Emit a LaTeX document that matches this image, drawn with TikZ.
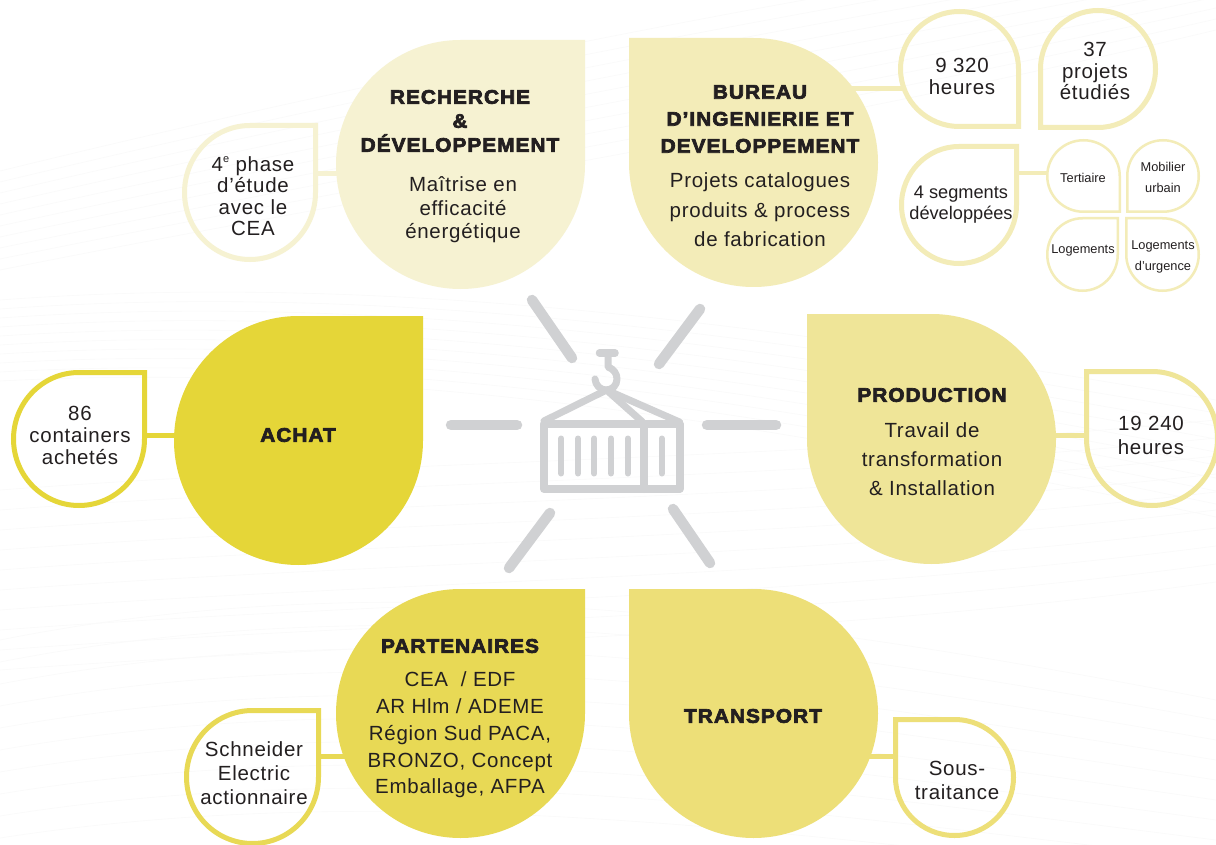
\documentclass[tikz,border=0pt]{standalone}
\usepackage{fontspec}
\usetikzlibrary{backgrounds}
\setmainfont{Liberation Sans}
\newfontfamily\bodyf[LetterSpace=3.5]{Liberation Sans}
\newfontfamily\plainf{Liberation Sans}
\newfontfamily\titlef[UprightFont={* Bold},LetterSpace=5,FakeStretch=1.06,FakeBold=3.5]{Liberation Sans}
\definecolor{txt}{HTML}{231F20}
\definecolor{grey}{HTML}{D0D1D3}
\definecolor{rdc}{HTML}{F6F2D2}
\definecolor{buc}{HTML}{F3ECB8}
\definecolor{acc}{HTML}{E5D638}
\definecolor{prc}{HTML}{EFE598}
\definecolor{pac}{HTML}{E8D955}
\definecolor{trc}{HTML}{EDDF78}
\definecolor{wavec}{HTML}{FAFAFA}
\tikzset{
  title/.style={align=center,inner sep=0pt,text=txt,font=\titlef\fontsize{19.7}{24}\selectfont},
  body/.style={align=center,inner sep=0pt,text=txt,font=\bodyf\fontsize{20.5}{#1}\selectfont},
  small/.style={align=center,inner sep=0pt,text=txt,font=\bodyf\fontsize{20.5}{#1}\selectfont},
  tiny/.style={align=center,inner sep=0pt,text=txt,font=\plainf\fontsize{12.8}{21}\selectfont},
  ico/.style={draw=grey,line width=8pt,line join=round,line cap=round},
  slat/.style={draw=grey,line width=6pt,line cap=round},
  ray/.style={draw=grey,line width=10.5pt,line cap=round},
  wave/.style={draw=wavec,line width=.6pt},
  link/.style={line width=#1},
  boxn/.style={inner sep=0pt,outer sep=0pt}
}
% \drop{options}{name}{x0}{y0}{x1}{y1}{sx}{sy}{inset}: drop with its sharp corner top right,
% flipped by sx, sy; x0..y1 are outer limits, inset half the stroke
\newcommand\drop[9]{%
  \pgfmathsetmacro\dcx{(#3+#5)/2}\pgfmathsetmacro\dcy{(#4+#6)/2}%
  \pgfmathsetmacro\dw{#5-#3}\pgfmathsetmacro\dh{#6-#4}%
  \pgfmathsetmacro\drx{#7*(\dw/2-#9)}\pgfmathsetmacro\dry{#8*(\dh/2-#9)}%
  \path[#1,shift={(\dcx,\dcy)},xscale=\drx,yscale=\dry]
    (0,-1) -- (1,-1) -- (1,0) .. controls (1,.5523) and (.5523,1) .. (0,1)
    .. controls (-.5523,1) and (-1,.5523) .. (-1,0)
    .. controls (-1,-.5523) and (-.5523,-1) .. (0,-1) -- cycle;
  \node[boxn,minimum width=\dw pt,minimum height=\dh pt] (#2) at (\dcx,\dcy) {};%
}
\begin{document}
\begin{tikzpicture}[x=1pt,y=-1pt]
\useasboundingbox (0,0) rectangle (1216,845);

% big drops
\drop{fill=rdc}{rd}{336}{40}{585}{289}{1}{1}{0}
\drop{fill=buc}{bu}{629}{38}{878}{287}{-1}{1}{0}
\drop{fill=acc}{ac}{174}{316}{423}{565}{1}{1}{0}
\drop{fill=prc}{pr}{807}{314}{1056}{564}{-1}{1}{0}
\drop{fill=pac}{pa}{336}{589}{585}{838}{1}{1}{0}
\drop{fill=trc}{tr}{629}{589}{878}{838}{-1}{1}{0}

% rings
\drop{draw=rdc,line width=5pt}{rdS}{182}{123}{318}{262}{1}{1}{2.5}
\drop{draw=buc,line width=5pt}{nine}{898}{9}{1021}{129}{1}{-1}{2.5}
\drop{draw=buc,line width=5pt}{tsv}{1038}{8}{1158}{130}{-1}{-1}{2.5}
\drop{draw=buc,line width=5pt}{seg}{899}{144}{1019}{266}{1}{1}{2.5}
\drop{draw=buc,line width=2.5pt}{ter}{1046}{139}{1121}{213}{1}{-1}{1.25}
\drop{draw=buc,line width=2.5pt}{mob}{1126}{139}{1200}{213}{-1}{-1}{1.25}
\drop{draw=buc,line width=2.5pt}{log}{1046}{217}{1119}{292}{1}{1}{1.25}
\drop{draw=buc,line width=2.5pt}{urg}{1125}{217}{1200}{292}{-1}{1}{1.25}
\drop{draw=acc,line width=5pt}{acS}{11}{370}{147}{508}{1}{1}{2.5}
\drop{draw=prc,line width=5pt}{prS}{1084}{369}{1220}{508}{-1}{1}{2.5}
\drop{draw=pac,line width=5pt}{paS}{184}{708}{321}{846}{1}{1}{2.5}
\drop{draw=trc,line width=5pt}{trS}{893}{717}{1016}{838}{-1}{1}{2.5}

% heights of the connectors
\coordinate (yrd) at (0,174);
\coordinate (ybu) at (0,88.5);
\coordinate (yse) at (0,173);
\coordinate (yac) at (0,435);
\coordinate (ypr) at (0,435);
\coordinate (ypa) at (0,756);
\coordinate (ytr) at (0,756);

\begin{pgfonlayer}{background}
  \fill[white] (0,0) rectangle (1216,845);
  % faint background lines
  \foreach \i in {0,...,9}{
    \draw[wave] (0,{270+\i*-11}) .. controls (400,{190-\i*13}) and (800,{130-\i*15}) .. (1216,{30-\i*11});
    \draw[wave] (0,{300+\i*9}) .. controls (400,{270+\i*10}) and (800,{330+\i*11}) .. (1216,{400+\i*13});
    \draw[wave] (0,{490+\i*20}) .. controls (400,{460+\i*20}) and (800,{460+\i*20}) .. (1216,{420+\i*18});
    \draw[wave] (0,{640+\i*22}) .. controls (400,{560+\i*24}) and (800,{620+\i*24}) .. (1216,{700+\i*20});
  }
  \draw[link=5pt,draw=rdc] ([xshift=-2pt]rdS.east |- yrd) -- (rd.center |- yrd);
  \draw[link=5pt,draw=buc] (bu.center |- ybu) -- ([xshift=4pt]nine.west |- ybu);
  \draw[link=3.5pt,draw=buc] ([xshift=-2pt]seg.east |- yse) -- ([xshift=2pt]ter.west |- yse);
  \draw[link=5pt,draw=acc] ([xshift=-2pt]acS.east |- yac) -- (ac.center |- yac);
  \draw[link=5pt,draw=prc] (pr.center |- ypr) -- ([xshift=2pt]prS.west |- ypr);
  \draw[link=5pt,draw=pac] ([xshift=-2pt]paS.east |- ypa) -- (pa.center |- ypa);
  \draw[link=5pt,draw=trc] (tr.center |- ytr) -- ([xshift=2pt]trS.west |- ytr);
\end{pgfonlayer}

% texts
\node[title] (t1) at (460,121) {RECHERCHE\\\&\\DÉVELOPPEMENT};
\node[body=23.5] (b1) at (463,210) {Maîtrise en\\efficacité\\énergétique};
\node[title,font=\titlef\fontsize{19.7}{27}\selectfont] (t2) at (760,119) {BUREAU\\D’INGENIERIE ET\\DEVELOPPEMENT};
\node[body=29.5] (b2) at (760,210) {Projets catalogues\\produits \& process\\de fabrication};
\node[title] (t3) at (298,435) {ACHAT};
\node[title] (t4) at (932,395) {PRODUCTION};
\node[body=29] (b4) at (932,459) {Travail de\\transformation\\\& Installation};
\node[title] (t5) at (460,646) {PARTENAIRES};
\node[body=26.7] (b5) at (460,735) {CEA~~/ EDF\\AR Hlm / ADEME\\Région Sud PACA,\\BRONZO, Concept\\Emballage, AFPA};
\node[title] (t6) at (753,716) {TRANSPORT};

\node[small=21.4] (s1) at (253,196) {4\raisebox{.42em}{\fontsize{11}{11}\selectfont e} phase\\d’étude\\avec le\\CEA};
\node[small=22] (s2) at (962,76) {9 320\\heures};
\node[small=21.5] (s3) at (1095,71) {37\\projets\\étudiés};
\node[align=center,inner sep=0pt,text=txt,font=\plainf\fontsize{18.2}{21}\selectfont] (s4) at (961,205) {4 segments\\développées};
\node[tiny] (s5) at (1083,178) {Tertiaire};
\node[tiny] (s6) at (1163,177) {Mobilier\\urbain};
\node[tiny] (s7) at (1083,250) {Logements};
\node[tiny] (s8) at (1163,257) {Logements\\d’urgence};
\node[small=22] (s9) at (80,435) {86\\containers\\achetés};
\node[small=24] (s10) at (1151,435) {19 240\\heures};
\node[small=24] (s11) at (254,773) {Schneider\\Electric\\actionnaire};
\node[small=24] (s12) at (957,780) {Sous-\\traitance};

% rays
\draw[ray] (532,300) -- (572,358);
\draw[ray] (700,309) -- (659,364);
\draw[ray] (451,425) -- (517,425);
\draw[ray] (707,425) -- (776,425);
\draw[ray] (550,513) -- (509,568);
\draw[ray] (673,509) -- (710,563);

% container with hook
\draw[ico] (544,423.5) rectangle (679.5,489);
\draw[ico] (644,423.5) -- (644,489);
\draw[ico,line width=7pt] (544,421) -- (606.5,390) -- (679.5,422);
\draw[ico,line width=7pt] (606.5,390) -- (642,421.5);
\foreach \x in {561.3,578,594.3,611,627.7,661.7}
  \draw[slat] (\x,438.5) -- (\x,473.5);
\draw[ico,line width=7.5pt] (599.5,353) -- (615,353);
\draw[ico,line width=7pt] (608,353) -- (608,367)
  .. controls (614,369) and (617,374) .. (617,379)
  .. controls (617,385.5) and (612,390) .. (606,390)
  .. controls (600,390) and (595.5,385) .. (595,379);
\end{tikzpicture}
\end{document}
